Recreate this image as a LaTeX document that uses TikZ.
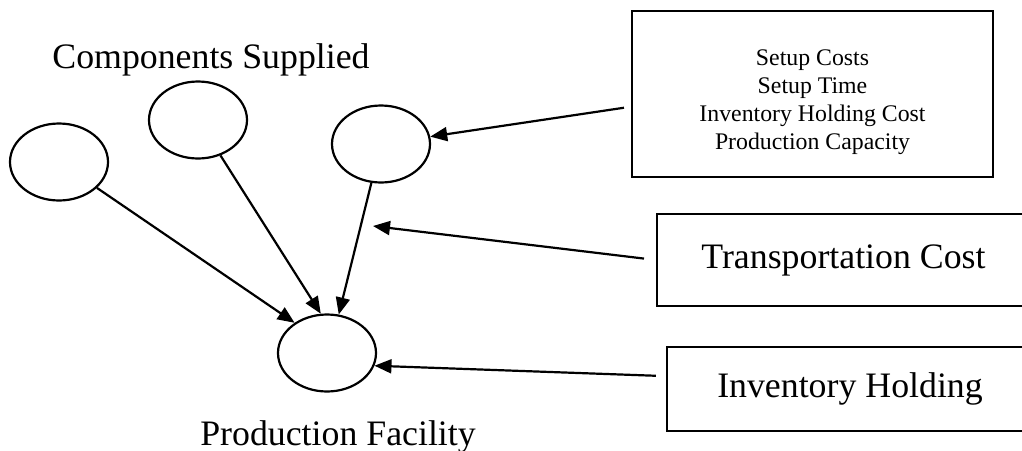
\documentclass[tikz,border=0pt]{standalone}
\usepackage{fontspec}
\setmainfont{Liberation Serif}
\usetikzlibrary{shapes.geometric,arrows.meta}
\begin{document}
\begin{tikzpicture}[
  x=0.5pt, y=-0.5pt,
  oval/.style={draw, ellipse, line width=1.1pt, minimum width=49pt, minimum height=38.5pt, inner sep=0pt},
  box/.style={draw, line width=1.1pt, align=center, inner sep=0pt},
  label/.style={font=\fontsize{17.9}{21}\selectfont, anchor=base},
  arrow/.style={-{Triangle[length=8.5pt,width=7pt]}, line width=1.1pt}
]
\useasboundingbox (0,0) rectangle (1022,450);
\node[oval] (e1) at (59,162) {};
\node[oval] (e2) at (198,120) {};
\node[oval] (e3) at (381,144) {};
\node[oval] (pf) at (327,353) {};
\node[label] (comp) at (211,68) {Components Supplied};
\node[label] (prod) at (338,445) {Production Facility};
\node[box, minimum width=180.5pt, minimum height=83pt] (cost) at (812.5,94) {};
\node[align=center, inner sep=0pt, font=\fontsize{11.9}{14}\selectfont] (costtext) at (812.5,102)
  {Setup Costs\\Setup Time\\Inventory Holding Cost\\Production Capacity};
\node[box, minimum width=186.5pt, minimum height=46pt,
  font=\fontsize{17.9}{21}\selectfont] (trans) at (843.5,260) {Transportation Cost};
\node[box, minimum width=183pt, minimum height=42pt,
  font=\fontsize{17.9}{21}\selectfont] (inv) at (850,389) {Inventory Holding};
\coordinate (tip) at (373,226);
\draw[arrow] (e1) -- (pf.137);
\draw[arrow] (e2) -- (pf.99);
\draw[arrow] (e3) -- (pf.73);
\draw[arrow, shorten <=3.5pt] (cost.184) -- (e3);
\draw[arrow, shorten <=6pt] (trans.west) -- (tip);
\draw[arrow, shorten <=5pt] (inv.176.5) -- (pf.-15);
\end{tikzpicture}
\end{document}
